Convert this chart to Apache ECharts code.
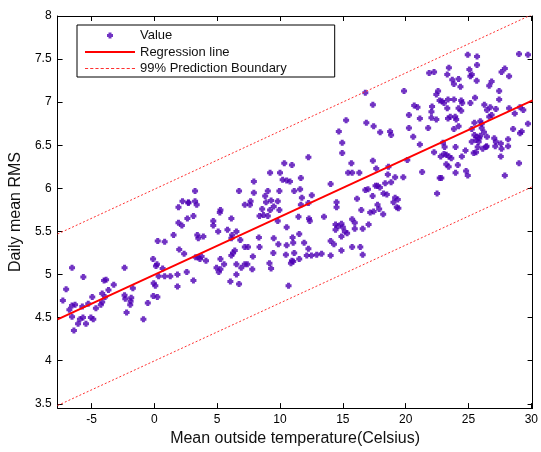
<!DOCTYPE html>
<html>
<head>
<meta charset="utf-8">
<script src="https://cdn.jsdelivr.net/npm/echarts@6/dist/echarts.min.js"></script>
<style>html,body{margin:0;padding:0;background:#fff;}#chart{width:541px;height:452px;}</style>
</head>
<body>
<div id="chart"></div>
<script>
// Mean outside temperature (Celsius)
const temperature = [
-6.55,-2.37,-5.65,-3.84,-4.00,-3.23,-1.71,-7.02,-3.65,-4.15,-2.37,-2.31,-1.84,-1.89,-1.92,-4.94,-3.92,-7.28,-6.55,-6.31,
-5.73,-5.26,-4.26,-4.15,-4.65,-6.76,-2.21,-6.55,-5.92,-5.68,-5.05,-4.86,-6.07,-5.44,-0.87,-0.52,-0.08,0.24,-6.40,
7.92,6.74,7.92,3.24,2.24,2.71,2.71,3.24,3.37,1.92,5.26,5.21,7.20,7.66,7.61,3.11,2.63,1.92,2.19,6.13,
4.69,4.69,1.53,0.27,0.82,3.42,3.50,3.90,5.08,5.82,6.53,6.19,6.13,6.84,7.20,7.45,7.84,1.98,2.37,3.29,
3.50,3.76,3.63,4.11,5.26,6.26,6.13,6.40,-0.10,0.21,0.13,0.66,0.34,0.82,1.27,1.84,2.58,4.95,5.13,5.26,
5.55,6.53,6.92,7.20,7.40,6.53,7.79,3.11,6.05,6.74,-0.05,0.08,1.84,
16.79,17.39,15.26,16.87,17.45,14.68,17.97,14.95,14.95,12.26,17.39,15.68,10.34,10.95,9.21,10.00,15.42,15.74,16.31,10.21,
10.53,10.79,11.66,14.03,17.66,17.76,17.95,17.60,16.79,17.00,16.13,17.37,18.24,9.03,9.95,11.13,11.60,12.53,14.50,8.82,
9.29,9.50,8.89,9.82,11.74,12.26,11.66,14.50,8.58,9.21,9.95,11.47,12.31,12.37,13.50,16.47,17.18,17.45,17.76,17.89,
18.21,8.37,8.68,9.03,9.82,10.53,14.42,14.63,14.89,15.00,15.74,15.95,17.05,14.42,15.16,15.95,16.58,9.50,11.00,11.53,
14.03,14.89,15.34,9.87,10.53,11.05,11.92,14.29,15.74,16.39,14.89,8.37,9.47,10.47,11.13,12.26,12.13,12.50,12.92,13.31,
14.03,16.58,10.95,11.05,10.87,9.16,9.29,11.53,10.68,8.32,
24.94,25.68,25.68,23.44,25.07,25.26,25.15,21.87,22.26,27.63,27.89,29.02,29.73,23.31,23.71,24.21,23.84,24.36,25.65,26.84,
26.65,28.23,19.87,22.58,22.44,27.44,22.70,22.89,23.37,23.84,24.42,24.50,25.52,25.15,20.68,20.94,22.10,23.05,23.31,24.21,
24.42,26.26,26.73,26.47,27.18,27.44,28.23,28.68,29.10,29.36,20.26,21.13,22.05,22.05,22.44,23.37,23.55,23.94,24.02,25.47,
25.94,26.05,26.65,26.84,20.26,21.79,23.84,24.21,25.26,26.05,26.23,25.94,25.65,25.86,25.47,25.60,25.81,25.26,26.47,26.44,
27.05,27.18,27.13,27.57,27.63,28.15,28.15,28.55,29.10,29.23,29.73,29.02,27.57,27.89,18.76,18.84,20.60,21.13,22.97,23.10,
23.97,24.76,25.42,25.60,25.73,26.13,26.39,22.26,22.79,23.23,23.05,23.63,23.44,24.47,23.23,23.42,24.15,24.81,24.94,23.97,
21.31,20.13,18.63,18.58,19.16,19.81,18.84,18.37,22.71,22.84,22.50,19.16,19.37,19.03,19.29,19.42,18.50
];
// Daily mean RMS
const rms = [
5.08,5.08,4.97,4.94,4.93,4.88,4.84,4.83,4.82,4.78,4.76,4.72,4.73,4.69,4.65,4.74,4.74,4.70,4.64,4.65,
4.63,4.66,4.65,4.68,4.61,4.59,4.56,4.51,4.48,4.50,4.50,4.48,4.43,4.43,4.48,4.67,4.75,4.74,4.35,
6.08,5.97,5.95,5.97,5.85,5.84,5.83,5.85,5.81,5.78,5.75,5.72,5.81,5.85,5.81,5.68,5.65,5.60,5.57,5.65,
5.62,5.57,5.46,5.39,5.38,5.46,5.42,5.44,5.50,5.52,5.50,5.46,5.42,5.40,5.32,5.32,5.21,5.29,5.24,5.20,
5.20,5.21,5.18,5.16,5.18,5.25,5.22,5.28,5.18,5.12,5.10,5.07,4.98,4.98,4.98,5.00,5.03,5.08,5.03,5.06,
5.12,5.12,5.08,5.12,5.12,5.00,5.06,4.93,4.92,4.89,4.90,4.87,4.86,
7.11,6.97,6.79,6.76,6.72,6.66,6.65,6.53,6.41,6.36,6.32,6.29,6.29,6.27,6.18,6.18,6.18,6.18,6.18,6.10,
6.09,6.08,6.12,6.05,6.23,6.03,6.01,6.03,5.98,5.99,5.88,5.91,5.94,5.97,5.97,5.97,5.99,5.92,5.84,5.91,
5.86,5.79,5.84,5.85,5.89,5.83,5.81,5.78,5.76,5.75,5.75,5.67,5.65,5.62,5.67,5.75,5.72,5.73,5.81,5.76,
5.70,5.68,5.69,5.68,5.62,5.55,5.58,5.56,5.59,5.55,5.64,5.60,5.58,5.52,5.50,5.53,5.53,5.42,5.43,5.47,
5.39,5.44,5.48,5.35,5.34,5.37,5.37,5.35,5.32,5.32,5.28,5.32,5.25,5.23,5.25,5.30,5.22,5.22,5.23,5.24,
5.22,5.23,5.16,5.15,5.13,5.13,5.07,5.18,4.87,5.43,
7.55,7.53,7.43,7.40,7.38,7.32,7.30,7.34,7.35,7.35,7.39,7.56,7.55,7.32,7.26,7.27,7.21,7.18,7.25,7.24,
7.19,7.30,7.13,7.13,7.09,7.13,7.02,7.01,7.03,7.03,7.02,6.99,7.05,6.99,6.96,6.94,6.95,6.99,6.93,6.93,
6.90,6.97,6.94,6.91,6.92,7.03,6.93,6.87,6.94,6.91,6.85,6.81,6.82,6.89,6.80,6.81,6.83,6.83,6.80,6.76,
6.78,6.75,6.83,6.85,6.70,6.70,6.69,6.72,6.69,6.70,6.65,6.61,6.60,6.58,6.62,6.56,6.54,6.54,6.60,6.49,
6.58,6.54,6.49,6.52,6.46,6.57,6.49,6.69,6.64,6.66,6.75,6.29,6.37,6.15,6.66,6.62,6.60,6.51,6.53,6.48,
6.48,6.44,6.41,6.42,6.48,6.46,6.48,6.42,6.37,6.39,6.40,6.35,6.37,6.37,6.28,6.25,6.27,6.20,6.15,6.18,
6.19,6.33,6.25,6.16,6.13,6.13,6.07,6.06,6.12,6.12,5.94,5.89,5.87,5.84,5.78,5.77,5.93
];
// Regression line and 99% prediction boundaries (end points)
const lineX = [-7.7, 30.1];
const regressionY = [4.48, 7.02];
const upperY = [5.47, 8.02];
const lowerY = [3.48, 6.02];
const xTicks = [-5, 0, 5, 10, 15, 20, 25, 30];
const yTicks = [3.5, 4, 4.5, 5, 5.5, 6, 6.5, 7, 7.5, 8];

const scatterData = temperature.map((t, i) => [t, rms[i]]);
const pair = ys => lineX.map((x, i) => [x, ys[i]]);

const FONT = 'Liberation Sans';
const MARKER = 'path://M1.5,0L4.5,0L4.5,1.5L6,1.5L6,4.5L4.5,4.5L4.5,6L1.5,6L1.5,4.5L0,4.5L0,1.5L1.5,1.5Z';
let dashPath = 'path://';
for (let i = 0; i < 10; i++) dashPath += 'M' + (i * 5) + ',0h3v1h-3z';
const SOLID = 'path://M0,0h50v2h-50z';

const chart = echarts.init(document.getElementById('chart'), null, {renderer: 'canvas'});
function axis(extra) {
  return Object.assign({
    type: 'value',
    axisLine: {show: true, onZero: false, lineStyle: {color: '#000', width: 1}},
    splitLine: {show: false}
  }, extra);
}
chart.setOption({
  animation: false,
  textStyle: {fontFamily: FONT},
  grid: {left: 55, right: 8, top: 16, bottom: 39},
  legend: {
    orient: 'vertical', left: 77, top: 25,
    itemWidth: 50, itemHeight: 6, itemGap: 3.5,
    padding: [4, 48, 2, 8],
    symbolKeepAspect: true,
    borderColor: '#000', borderWidth: 1, backgroundColor: '#fff',
    textStyle: {fontSize: 13, color: '#111', fontFamily: FONT},
    data: [
      {name: 'Value', icon: MARKER},
      {name: 'Regression line', icon: SOLID},
      {name: '99% Prediction Boundary', icon: dashPath}
    ]
  },
  xAxis: [
    axis({
      position: 'bottom', min: lineX[0], max: lineX[1],
      name: 'Mean outside temperature(Celsius)', nameLocation: 'middle', nameGap: 17,
      nameTextStyle: {fontSize: 16, color: '#111', fontFamily: FONT},
      axisTick: {show: true, inside: true, length: 5, lineStyle: {color: '#000'}, customValues: xTicks},
      axisLabel: {fontSize: 12, color: '#000', margin: 6, customValues: xTicks}
    }),
    axis({
      position: 'top', min: lineX[0], max: lineX[1],
      axisTick: {show: true, inside: true, length: 5, lineStyle: {color: '#000'}, customValues: xTicks},
      axisLabel: {show: false}
    })
  ],
  yAxis: [
    axis({
      position: 'left', min: 3.45, max: 8,
      name: 'Daily mean RMS', nameLocation: 'middle', nameGap: 24, nameRotate: 90,
      nameTextStyle: {fontSize: 16, color: '#111', fontFamily: FONT},
      axisTick: {show: true, inside: true, length: 5, lineStyle: {color: '#000'}, customValues: yTicks},
      axisLabel: {fontSize: 12, color: '#000', margin: 6, customValues: yTicks}
    }),
    axis({
      position: 'right', min: 3.45, max: 8,
      axisTick: {show: true, inside: true, length: 5, lineStyle: {color: '#000'}, customValues: yTicks},
      axisLabel: {show: false}
    })
  ],
  series: [
    {
      name: 'Value', type: 'scatter', xAxisIndex: 0, yAxisIndex: 0,
      symbol: MARKER, symbolSize: 6,
      itemStyle: {color: '#4e00b4'},
      data: scatterData
    },
    {
      name: 'Regression line', type: 'line', symbol: 'none',
      lineStyle: {color: '#ff0000', width: 2},
      itemStyle: {color: '#ff0000'},
      data: pair(regressionY)
    },
    {
      name: '99% Prediction Boundary', type: 'line', symbol: 'none',
      lineStyle: {color: '#ff3030', width: 1, type: [2, 2]},
      itemStyle: {color: '#ff3030'},
      data: pair(upperY)
    },
    {
      name: '99% Prediction Boundary', type: 'line', symbol: 'none',
      lineStyle: {color: '#ff3030', width: 1, type: [2, 2]},
      itemStyle: {color: '#ff3030'},
      data: pair(lowerY)
    }
  ]
});
</script>
</body>
</html>
